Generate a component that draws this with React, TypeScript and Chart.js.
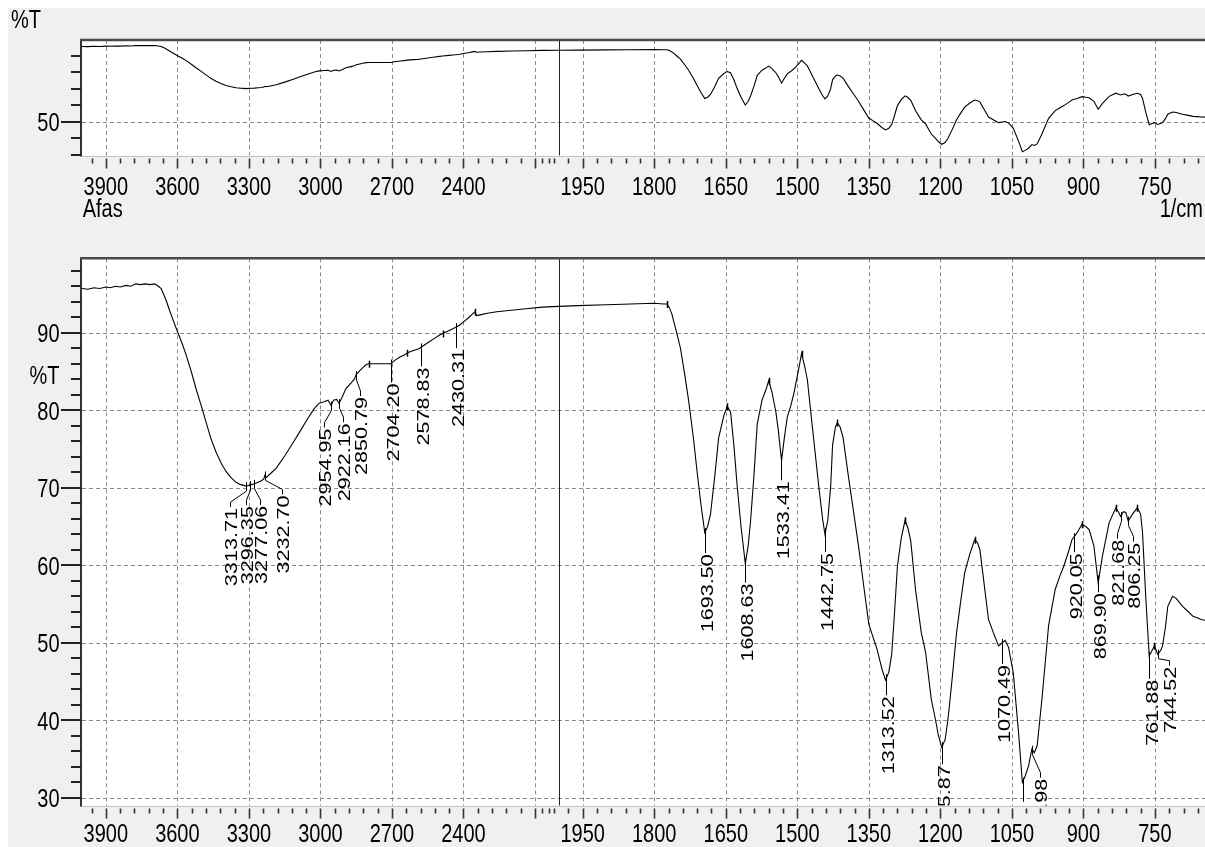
import React, { useEffect, useRef } from "react";
import { Chart, registerables } from "chart.js";

Chart.register(...registerables);

// ---------- spectrum (wavenumber in 1/cm, %T) ----------
const wavenumbers = [
  4000, 3975, 3950, 3925, 3900, 3880, 3860, 3840, 3815, 3795,
  3775, 3755, 3735, 3715, 3695, 3680, 3668, 3658, 3645, 3633,
  3615, 3599, 3580, 3563, 3540, 3522, 3500, 3480, 3460, 3438,
  3415, 3396, 3375, 3354, 3335, 3320, 3313, 3300, 3290, 3277,
  3262, 3248, 3238, 3233, 3228, 3210, 3186, 3150, 3117, 3085,
  3054, 3026, 3005, 2985, 2968, 2955, 2945, 2932, 2922, 2910,
  2893, 2872, 2858, 2850, 2835, 2822, 2808, 2796, 2770, 2740,
  2718, 2705, 2690, 2665, 2650, 2635, 2610, 2590, 2579, 2550,
  2520, 2500, 2488, 2460, 2445, 2432, 2415, 2400, 2380, 2363,
  2352, 2345, 2330, 2300, 2260, 2200, 2137, 2070, 2000, 1960,
  1900, 1850, 1800, 1780, 1773, 1768, 1763, 1755, 1745, 1736,
  1728, 1718, 1710, 1702, 1694, 1688, 1682, 1673, 1665, 1654,
  1647, 1640, 1633, 1626, 1618, 1609, 1603, 1598, 1591, 1584,
  1574, 1566, 1560, 1553, 1545, 1540, 1533, 1527, 1521, 1514,
  1507, 1498, 1491, 1485, 1479, 1469, 1455, 1447, 1442, 1436,
  1430, 1426, 1420, 1416, 1410, 1404, 1392, 1381, 1371, 1360,
  1350, 1340, 1333, 1322, 1315, 1308, 1302, 1297, 1290, 1282,
  1274, 1268, 1262, 1252, 1240, 1231, 1219, 1210, 1204, 1197,
  1190, 1184, 1175, 1166, 1157, 1149, 1138, 1128, 1122, 1117,
  1108, 1099, 1090, 1078, 1070, 1064, 1057, 1047, 1036, 1028,
  1022, 1015, 1008, 1003, 997, 987, 973, 959, 950, 941,
  930, 924, 913, 903, 895, 888, 878, 869, 860, 846,
  832, 826, 822, 816, 811, 806, 797, 787, 780, 776,
  769, 762, 756, 751, 744, 738, 734, 728, 723, 713,
  705, 700, 692, 680, 670, 660, 653, 645,
];

const transmittance = [
  95.7, 95.6, 95.8, 95.7, 95.9, 95.8, 96.0, 95.9, 96.1, 96.0,
  96.3, 96.2, 96.3, 96.2, 96.3, 96.0, 95.7, 95.0, 94.0, 92.9,
  91.4, 90.1, 88.6, 87.1, 84.8, 82.8, 80.6, 78.5, 76.4, 74.6,
  73.1, 72.1, 71.3, 70.7, 70.4, 70.3, 70.2, 70.3, 70.4, 70.5,
  70.7, 70.9, 71.1, 71.6, 71.3, 71.8, 72.5, 74.1, 75.7, 77.3,
  78.9, 80.2, 80.9, 81.1, 81.3, 80.6, 81.3, 81.4, 80.9, 81.6,
  82.8, 83.5, 84.0, 84.6, 85.1, 85.5, 85.9, 86.0, 86.0, 86.0,
  86.0, 86.0, 86.4, 86.9, 87.1, 87.4, 87.7, 87.9, 88.1, 88.7,
  89.3, 89.7, 89.9, 90.3, 90.5, 90.7, 91.0, 91.4, 91.9, 92.4,
  92.7, 92.2, 92.3, 92.5, 92.7, 92.9, 93.1, 93.3, 93.4, 93.5,
  93.6, 93.7, 93.8, 93.7, 93.7, 93.2, 92.4, 90.5, 88.0, 84.6,
  81.3, 76.5, 72.0, 67.8, 64.2, 65.0, 66.6, 71.5, 76.4, 79.3,
  80.5, 79.8, 75.5, 70.2, 65.0, 60.2, 62.5, 65.7, 71.5, 78.2,
  81.3, 82.6, 83.8, 82.3, 79.8, 77.5, 73.5, 76.5, 79.1, 80.5,
  82.2, 85.0, 87.3, 85.8, 84.0, 78.2, 70.2, 66.0, 64.0, 65.8,
  70.2, 75.5, 77.8, 78.4, 77.8, 76.5, 71.1, 66.5, 62.2, 57.0,
  52.4, 50.5, 49.2, 46.5, 45.2, 46.2, 48.5, 53.0, 59.9, 63.5,
  65.8, 64.8, 63.1, 56.8, 51.3, 48.8, 42.7, 40.0, 38.0, 36.5,
  37.5, 40.1, 45.5, 51.3, 55.5, 59.0, 61.5, 63.3, 62.9, 62.0,
  57.5, 53.0, 51.5, 49.6, 50.0, 50.3, 49.4, 46.1, 38.4, 32.0,
  32.8, 34.1, 36.3, 35.8, 36.7, 42.7, 52.2, 56.9, 58.5, 59.9,
  62.0, 63.3, 64.2, 65.3, 65.0, 64.6, 62.5, 57.7, 61.2, 65.5,
  67.4, 66.8, 66.3, 66.9, 66.8, 65.7, 66.6, 67.4, 66.6, 64.2,
  55.6, 48.3, 49.0, 49.6, 48.5, 49.0, 49.6, 52.0, 54.7, 56.0,
  55.7, 55.3, 54.7, 54.0, 53.4, 53.2, 53.0, 52.9,
];

// ---------- axis ticks ----------
const xMajorTicks = [3900, 3600, 3300, 3000, 2700, 2400, 2100, 1950, 1800, 1650, 1500, 1350, 1200, 1050, 900, 750];
const xTickLabels = ["3900", "3600", "3300", "3000", "2700", "2400", "", "1950", "1800", "1650", "1500", "1350", "1200", "1050", "900", "750"];
const xExtraMinorTicks = [2070, 2020];
const yMajorTicksBottom = [30, 40, 50, 60, 70, 80, 90];
const yMajorTicksTop = [50];
const yMinorTicksTop = [30, 40, 60, 70, 80, 90];

// ---------- peak annotations ----------
const peakWavenumbers = [
  3313.71, 3296.35, 3277.06, 3232.70, 2954.95, 2922.16, 2850.79, 2704.20, 2578.83, 2430.31,
  1693.50, 1608.63, 1533.41, 1442.75, 1313.52, 1195.87, 1070.49, 1027.5, 1006.98, 920.05,
  869.90, 821.68, 806.25, 761.88, 744.52,
];
const peakLabels = [
  "3313.71", "3296.35", "3277.06", "3232.70", "2954.95", "2922.16", "2850.79", "2704.20", "2578.83", "2430.31",
  "1693.50", "1608.63", "1533.41", "1442.75", "1313.52", "1195.87", "1070.49", "", "1006.98", "920.05",
  "869.90", "821.68", "806.25", "761.88", "744.52",
];
const maximaMarks = [2796, 2635, 2488, 2352, 1773, 1647, 1560, 1491, 1416, 1274, 1128, 903, 832, 787, 751];

// label placement (pixels): sideways shift of the text and leader length
const peakLabelShift = [-16.5, -4.5, 5.5, 16, -7.5, 3, 3.3, 0, 0, 0, 0, 0, 0, 0, 0, 0, 0, 0, 7, 0, 0, -4.5, 4.7, 1, 10];
const peakLabelGap = [22, 21, 22, 20, 23, 20, 22, 20, 20, 22, 22, 21, 22.5, 21, 18, 19, 22, 21, 29, 16, 14, 23.5, 22, 24, 13];

// ---------- broken wavenumber axis: 4000-2000 at half scale, 2000-645 at full scale ----------
const MAX_WN = 4000;
const BREAK_WN = 2000;
const MIN_WN = 645;
function toPos(w: number): number {
  return w >= BREAK_WN ? (MAX_WN - w) / 2 : (MAX_WN - BREAK_WN) / 2 + (BREAK_WN - w);
}
const POS_MAX = toPos(MIN_WN);

function interpT(w: number): number {
  for (let i = 0; i < wavenumbers.length - 1; i++) {
    const a = wavenumbers[i], b = wavenumbers[i + 1];
    if (w <= a && w >= b) {
      const t = (a - w) / (a - b);
      return transmittance[i] + t * (transmittance[i + 1] - transmittance[i]);
    }
  }
  return transmittance[transmittance.length - 1];
}

const FONT = '"Liberation Sans", Arial, Helvetica, sans-serif';
const TICK_SIZE = 20;
const TICK_STRETCH = 1.3;
const PEAK_SIZE = 17;
const PEAK_STRETCH = 1.27;

function stretchedText(ctx: CanvasRenderingContext2D, text: string, x: number, y: number, align: CanvasTextAlign) {
  ctx.save();
  ctx.translate(x, y);
  ctx.scale(1, TICK_STRETCH);
  ctx.font = `${TICK_SIZE}px ${FONT}`;
  ctx.textAlign = align;
  ctx.textBaseline = "alphabetic";
  ctx.fillStyle = "#000";
  ctx.fillText(text, 0, 0);
  ctx.restore();
}

function rotatedText(ctx: CanvasRenderingContext2D, text: string, x: number, topY: number) {
  ctx.save();
  ctx.translate(x, topY);
  ctx.scale(1, PEAK_STRETCH);
  ctx.rotate(-Math.PI / 2);
  ctx.font = `${PEAK_SIZE}px ${FONT}`;
  ctx.textAlign = "right";
  ctx.textBaseline = "alphabetic";
  ctx.fillStyle = "#000";
  ctx.fillText(text, 0, (PEAK_SIZE * 0.716) / 2);
  ctx.restore();
}

type Panel = {
  height: number;
  padding: { left: number; top: number; right: number; bottom: number };
  yMin: number;
  yMax: number;
  yMajor: number[];
  yMinor: number[];
  xLabelDy: number;
  showPeaks: boolean;
  top: boolean;
};

const bottomMinor: number[] = [];
for (let v = 30; v <= 98; v += 2) if (v % 10 !== 0) bottomMinor.push(v);

const xMinorTicks: number[] = [];
for (let w = 3960; w >= 2040; w -= 60) if (!xMajorTicks.includes(w)) xMinorTicks.push(w);
for (let w = 1980; w >= 660; w -= 30) if (!xMajorTicks.includes(w)) xMinorTicks.push(w);
xMinorTicks.push(...xExtraMinorTicks);

const TOP_PANEL: Panel = {
  height: 220,
  padding: { left: 74, top: 32, right: 0, bottom: 72.5 },
  yMin: 29.7,
  yMax: 99.6,
  yMajor: yMajorTicksTop,
  yMinor: yMinorTicksTop,
  xLabelDy: 39,
  showPeaks: false,
  top: true,
};

const BOTTOM_PANEL: Panel = {
  height: 619,
  padding: { left: 74, top: 30.3, right: 0, bottom: 41.5 },
  yMin: 29.0,
  yMax: 99.6,
  yMajor: yMajorTicksBottom,
  yMinor: bottomMinor,
  xLabelDy: 36.5,
  showPeaks: true,
  top: false,
};

function framePlugin(panel: Panel) {
  return {
    id: "ftirFrame",
    beforeDatasetsDraw(chart: any) {
      const { ctx, chartArea: a, width, height } = chart;
      const xs = chart.scales.x, ys = chart.scales.y;
      ctx.save();
      ctx.fillStyle = "#f0f0f0";
      ctx.fillRect(0, 0, width, height);
      ctx.fillStyle = "#ffffff";
      ctx.fillRect(a.left, a.top, a.right - a.left, a.bottom - a.top);
      // dashed grid
      ctx.strokeStyle = "#8a8a8a";
      ctx.lineWidth = 1;
      ctx.setLineDash([4, 3]);
      ctx.beginPath();
      xMajorTicks.forEach((w) => {
        const x = Math.round(xs.getPixelForValue(toPos(w))) + 0.5;
        ctx.moveTo(x, a.top);
        ctx.lineTo(x, a.bottom);
      });
      panel.yMajor.forEach((v) => {
        const y = Math.round(ys.getPixelForValue(v)) + 0.5;
        ctx.moveTo(a.left, y);
        ctx.lineTo(a.right, y);
      });
      ctx.stroke();
      ctx.setLineDash([]);
      // axis break line at 2000
      const bx = Math.round(xs.getPixelForValue(toPos(BREAK_WN))) + 0.5;
      ctx.strokeStyle = "#222";
      ctx.beginPath();
      ctx.moveTo(bx, a.top);
      ctx.lineTo(bx, a.bottom);
      ctx.stroke();
      ctx.restore();
    },
    afterDatasetsDraw(chart: any) {
      const { ctx, chartArea: a } = chart;
      const xs = chart.scales.x, ys = chart.scales.y;
      ctx.save();
      // borders
      ctx.strokeStyle = "#c4c4c4";
      ctx.lineWidth = 1;
      ctx.beginPath();
      ctx.moveTo(a.left, Math.round(a.bottom) + 0.5);
      ctx.lineTo(a.right, Math.round(a.bottom) + 0.5);
      ctx.stroke();
      ctx.strokeStyle = "#333";
      ctx.lineWidth = 2;
      ctx.beginPath();
      ctx.moveTo(a.left - 1, a.top);
      ctx.lineTo(a.left - 1, a.bottom + 1);
      ctx.stroke();
      ctx.strokeStyle = "#4a4a4a";
      ctx.lineWidth = 2.5;
      ctx.beginPath();
      ctx.moveTo(a.left - 2, a.top);
      ctx.lineTo(a.right, a.top);
      ctx.stroke();

      // y ticks
      ctx.strokeStyle = "#222";
      ctx.lineWidth = 2;
      ctx.beginPath();
      panel.yMajor.forEach((v) => {
        const y = Math.round(ys.getPixelForValue(v));
        ctx.moveTo(a.left - 21, y);
        ctx.lineTo(a.left - 1, y);
      });
      panel.yMinor.forEach((v) => {
        const y = Math.round(ys.getPixelForValue(v));
        ctx.moveTo(a.left - 11, y);
        ctx.lineTo(a.left - 1, y);
      });
      ctx.stroke();
      // x ticks
      ctx.strokeStyle = "#333";
      ctx.lineWidth = 1.6;
      ctx.beginPath();
      const t0 = a.bottom + 3;
      xMajorTicks.forEach((w) => {
        const x = Math.round(xs.getPixelForValue(toPos(w))) + 0.5;
        ctx.moveTo(x, t0);
        ctx.lineTo(x, t0 + 10);
      });
      xMinorTicks.forEach((w) => {
        const x = Math.round(xs.getPixelForValue(toPos(w))) + 0.5;
        ctx.moveTo(x, t0);
        ctx.lineTo(x, t0 + 5);
      });
      ctx.stroke();

      // tick labels
      const capH = TICK_SIZE * 0.716 * TICK_STRETCH;
      panel.yMajor.forEach((v) => {
        const y = ys.getPixelForValue(v);
        stretchedText(ctx, String(v), a.left - 22.5, y + capH / 2, "right");
      });
      xMajorTicks.forEach((w, i) => {
        if (!xTickLabels[i]) return;
        const x = xs.getPixelForValue(toPos(w));
        stretchedText(ctx, xTickLabels[i], x, a.bottom + panel.xLabelDy, "center");
      });

      // titles
      if (panel.top) {
        stretchedText(ctx, "%T", 3, 20, "left");
        stretchedText(ctx, "Afas", a.left + 0.7, 208.5, "left");
        stretchedText(ctx, "1/cm", a.right - 2, 208.5, "right");
      } else {
        stretchedText(ctx, "%T", a.left - 22.5, 156, "right");
      }

      // peak annotations
      if (panel.showPeaks) {
        ctx.save();
        ctx.beginPath();
        ctx.rect(a.left, a.top, a.right - a.left, a.bottom - a.top);
        ctx.clip();
        ctx.strokeStyle = "#000";
        ctx.lineWidth = 1;
        peakWavenumbers.forEach((w, i) => {
          const px = Math.round(xs.getPixelForValue(toPos(w))) + 0.5;
          const py = ys.getPixelForValue(interpT(w));
          const lx = Math.round(px + peakLabelShift[i]);
          const topY = py + peakLabelGap[i];
          ctx.beginPath();
          ctx.moveTo(px, py - 4);
          if (Math.abs(peakLabelShift[i]) < 1.5) {
            ctx.lineTo(px, topY - 1);
          } else {
            ctx.lineTo(px, py + 5);
            ctx.lineTo(lx + 0.5, topY - 6);
            ctx.lineTo(lx + 0.5, topY - 1);
          }
          ctx.stroke();
          if (peakLabels[i]) rotatedText(ctx, peakLabels[i], lx + 0.5, topY);
        });
        ctx.lineWidth = 1.5;
        ctx.beginPath();
        maximaMarks.forEach((w) => {
          const px = Math.round(xs.getPixelForValue(toPos(w))) + 0.5;
          const py = ys.getPixelForValue(interpT(w));
          ctx.moveTo(px, py - 3);
          ctx.lineTo(px, py + 4);
        });
        ctx.stroke();
        ctx.restore();
      }
      ctx.restore();
    },
  };
}

function buildChart(canvas: HTMLCanvasElement, panel: Panel) {
  const points = wavenumbers.map((w, i) => ({ x: toPos(w), y: transmittance[i] }));
  return new Chart(canvas, {
    type: "line",
    data: {
      datasets: [
        {
          data: points,
          borderColor: "#000",
          borderWidth: 1.1,
          pointRadius: 0,
          fill: false,
          tension: 0,
        },
      ],
    },
    options: {
      responsive: false,
      animation: false,
      devicePixelRatio: 1,
      events: [],
      layout: { padding: panel.padding },
      plugins: {
        legend: { display: false },
        tooltip: { enabled: false },
        title: { display: false },
      },
      scales: {
        x: { type: "linear", min: 0, max: POS_MAX, display: false },
        y: { type: "linear", min: panel.yMin, max: panel.yMax, display: false },
      },
    },
    plugins: [framePlugin(panel)],
  } as any);
}

export default function App() {
  const topRef = useRef<HTMLCanvasElement>(null);
  const bottomRef = useRef<HTMLCanvasElement>(null);

  useEffect(() => {
    const charts = [buildChart(topRef.current!, TOP_PANEL), buildChart(bottomRef.current!, BOTTOM_PANEL)];
    return () => charts.forEach((c) => c.destroy());
  }, []);

  return (
    <div
      style={{
        position: "absolute",
        left: 8,
        top: 8,
        width: 1197,
        height: 839,
        background: "#f0f0f0",
        overflow: "hidden",
      }}
    >
      <canvas ref={topRef} width={1197} height={TOP_PANEL.height} style={{ display: "block", width: 1197, height: TOP_PANEL.height }} />
      <canvas ref={bottomRef} width={1197} height={BOTTOM_PANEL.height} style={{ display: "block", width: 1197, height: BOTTOM_PANEL.height }} />
    </div>
  );
}
